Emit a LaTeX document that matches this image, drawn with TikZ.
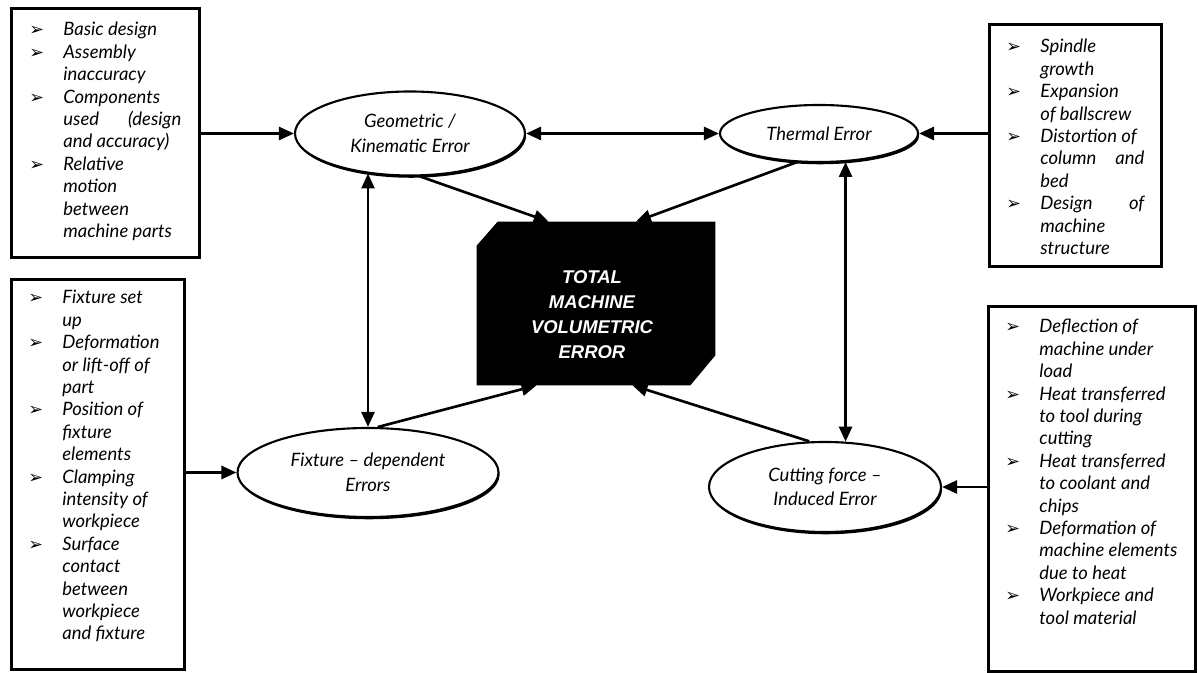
\documentclass[tikz,border=0pt]{standalone}
\usepackage{fontspec}
\setmainfont{Lato}
\newfontfamily\symfont{DejaVu Sans}
\newfontfamily\blockfont{Liberation Sans}
\usetikzlibrary{arrows.meta,shapes.geometric,shadows}
\newcommand{\bul}{\llap{\makebox[0.68cm][l]{\symfont\fontsize{10}{10}\selectfont ➢}}}
\newcommand{\jline}[2]{\makebox[#1][s]{#2}}

\tikzset{
    srcbox/.style={draw, line width=1.6pt, anchor=north west, inner sep=0pt},
    srclist/.style={anchor=north west, align=left, inner sep=0pt,
        font=\fontsize{10.5}{12.75}\selectfont\itshape},
    errnode/.style={ellipse, draw, line width=1.2pt, fill=white, align=center, inner sep=0pt,
        font=\fontsize{10.5}{14}\selectfont\itshape,
        drop shadow={shadow xshift=0.6pt, shadow yshift=-1.3pt, opacity=1, fill=black}},
    link/.style={line width=1.5pt, -{Triangle[length=0.30cm,width=0.26cm]}},
    dlink/.style={line width=1.5pt, {Triangle[length=0.30cm,width=0.26cm]}-{Triangle[length=0.30cm,width=0.26cm]}},
}

\begin{document}
\begin{tikzpicture}
    \useasboundingbox (0,0) rectangle (23.96,13.46);

    % source boxes
    \node[srcbox, minimum width=3.76cm, minimum height=4.98cm] (tlbox) at (0.20,13.32) {};
    \node[srcbox, minimum width=3.44cm, minimum height=4.84cm] (trbox) at (19.76,13.00) {};
    \node[srcbox, minimum width=3.46cm, minimum height=7.80cm] (blbox) at (0.20,7.90) {};
    \node[srcbox, minimum width=4.14cm, minimum height=7.30cm] (brbox) at (19.74,7.36) {};

    \node[srclist] (tllist) at ([shift={(1.06,-0.30)}]tlbox.north west) {%
        \bul Basic design\\
        \bul Assembly\\
        inaccuracy\\
        \bul Components\\
        \jline{2.36cm}{used (design}\\
        and accuracy)\\
        \bul Relative\\
        motion\\
        between\\
        machine parts};
    \node[srclist] (trlist) at ([shift={(1.04,-0.32)}]trbox.north west) {%
        \bul Spindle\\
        growth\\
        \bul Expansion\\
        of ballscrew\\
        \bul Distortion of\\
        \jline{2.08cm}{column and}\\
        bed\\
        \bul \jline{2.08cm}{Design of}\\
        machine\\
        structure};
    \node[srclist] (bllist) at ([shift={(1.04,-0.24)}]blbox.north west) {%
        \bul Fixture set\\
        up\\
        \bul Deformation\\
        or lift-off of\\
        part\\
        \bul Position of\\
        fixture\\
        elements\\
        \bul Clamping\\
        intensity of\\
        workpiece\\
        \bul Surface\\
        contact\\
        between\\
        workpiece\\
        and fixture};
    \node[srclist] (brlist) at ([shift={(1.04,-0.28)}]brbox.north west) {%
        \bul Deflection of\\
        machine under\\
        load\\
        \bul Heat transferred\\
        to tool during\\
        cutting\\
        \bul Heat transferred\\
        to coolant and\\
        chips\\
        \bul Deformation of\\
        machine elements\\
        due to heat\\
        \bul Workpiece and\\
        tool material};

    % error sources
    \node[errnode, minimum width=4.60cm, minimum height=1.68cm] (geo) at (8.20,10.79) {Geometric /\\Kinematic Error};
    \node[errnode, minimum width=3.96cm, minimum height=1.14cm] (therm) at (16.38,10.79) {Thermal Error};
    \node[errnode, minimum width=5.22cm, minimum height=1.78cm] (fix) at (7.36,4.01) {Fixture -- dependent\\Errors};
    \node[errnode, minimum width=4.64cm, minimum height=1.80cm] (cut) at (16.50,3.72) {Cutting force --\\Induced Error};

    % total error block
    \node[minimum width=4.76cm, minimum height=3.26cm, inner sep=0pt] (tot) at (11.92,7.39) {};
    \fill ([xshift=0.42cm]tot.north west) -- (tot.north east) -- ([yshift=0.60cm]tot.south east)
        -- ([xshift=-0.50cm]tot.south east) -- (tot.south west) -- ([yshift=-0.48cm]tot.north west) -- cycle;
    \node[align=center, text=white, font=\fontsize{10.5}{14.2}\selectfont\blockfont\bfseries\itshape] (totlbl)
        at ([shift={(-0.08,-0.22)}]tot.center) {TOTAL\\MACHINE\\VOLUMETRIC\\ERROR};

    % connectors
    \draw[link] (geo.west -| tlbox.east) -- (geo.west);
    \draw[link] (therm.east -| trbox.west) -- (therm.east);
    \draw[link] (fix.west -| blbox.east) -- (fix.west);
    \draw[link] (cut.east -| brbox.west) -- (cut.east);
    \draw[dlink] (geo.east) -- (therm.west);
    \draw[dlink] (fix.north) -- (fix.north |- geo.223);
    \draw[dlink] (therm.313) -- (therm.313 |- cut.66);
    \draw[link] (geo.283) -- (tot.120);
    \draw[link] (therm.232) -- (tot.64);
    \draw[link] (fix.78) -- (tot.234);
    \draw[link] (cut.109) -- (tot.294);
\end{tikzpicture}
\end{document}
